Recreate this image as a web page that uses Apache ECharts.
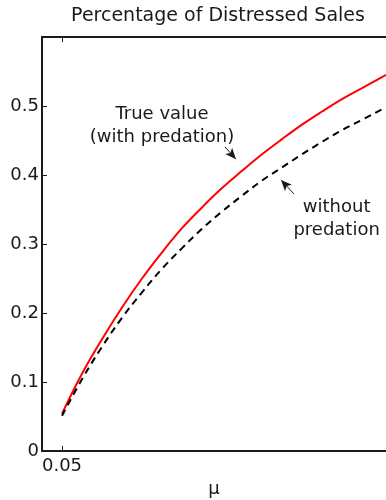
<!DOCTYPE html>
<html>
<head>
<meta charset="utf-8">
<script src="https://cdn.jsdelivr.net/npm/echarts@6/dist/echarts.min.js"></script>
<style>
  html, body { margin: 0; padding: 0; background: #fff; }
  #chart { width: 386px; height: 500px; }
</style>
</head>
<body>
<div id="chart"></div>
<script>
// μ values along the horizontal axis
const mu = [0.05, 0.06, 0.07, 0.08, 0.09, 0.10, 0.11, 0.12, 0.13, 0.14,
            0.15, 0.16, 0.17, 0.18, 0.19, 0.20, 0.21, 0.212];
// Share of distressed sales, true value (with predation)
const withPredation = [0.054, 0.112, 0.162, 0.208, 0.250, 0.288, 0.323, 0.353, 0.381,
                       0.406, 0.430, 0.452, 0.473, 0.492, 0.510, 0.526, 0.542, 0.545];
// Share of distressed sales without predation
const withoutPredation = [0.051, 0.104, 0.151, 0.193, 0.230, 0.264, 0.294, 0.322, 0.347,
                          0.370, 0.392, 0.411, 0.430, 0.448, 0.465, 0.480, 0.495, 0.498];
const xTicks = [0.05];
const yTicks = [0, 0.1, 0.2, 0.3, 0.4, 0.5];

const FONT = '"DejaVu Sans", Verdana, sans-serif';
const INK = '#1a1a1a';

const chart = echarts.init(document.getElementById('chart'), null, { renderer: 'canvas' });

function pairs(xs, ys) { return xs.map((x, i) => [x, ys[i]]); }

const baseX = {
  type: 'value', min: 0.04, max: 0.212,
  splitLine: { show: false },
  axisLine: { show: true, onZero: false, lineStyle: { color: INK, width: 2 } },
  axisTick: { show: true, inside: true, length: 5, customValues: xTicks, lineStyle: { color: INK, width: 1 } }
};

const arrowLine = {
  silent: true, symbol: ['none', 'arrow'], symbolSize: [7, 11],
  label: { show: false },
  lineStyle: { color: INK, width: 1, type: 'solid' }
};

chart.setOption({
  animation: false,
  backgroundColor: '#fff',
  title: {
    text: 'Percentage of Distressed Sales',
    left: 213, textAlign: 'center', top: 2,
    textStyle: { fontFamily: FONT, fontSize: 19, fontWeight: 'normal', color: INK }
  },
  grid: { left: 42, right: 0, top: 37, bottom: 49, containLabel: false, outerBoundsMode: 'none' },
  xAxis: [
    Object.assign({}, baseX, {
      position: 'bottom',
      name: 'μ', nameLocation: 'middle', nameGap: 28,
      nameTextStyle: { fontFamily: FONT, fontSize: 18, color: INK },
      axisLabel: { show: true, customValues: xTicks, margin: 6, formatter: v => v.toFixed(2),
                   fontFamily: FONT, fontSize: 18, color: INK }
    }),
    Object.assign({}, baseX, { position: 'top', axisLabel: { show: false } })
  ],
  yAxis: {
    type: 'value', min: 0, max: 0.6,
    splitLine: { show: false },
    axisLine: { show: true, lineStyle: { color: INK, width: 2 } },
    axisTick: { show: true, inside: true, length: 5, customValues: yTicks, lineStyle: { color: INK, width: 1 } },
    axisLabel: { customValues: yTicks, margin: 3, formatter: v => (v === 0 ? '0' : v.toFixed(1)),
                 fontFamily: FONT, fontSize: 18, color: INK }
  },
  series: [
    {
      name: 'True value (with predation)', type: 'line', smooth: 0.4,
      data: pairs(mu, withPredation), showSymbol: false,
      lineStyle: { color: '#ff0000', width: 2 },
      markLine: Object.assign({}, arrowLine, {
        data: [[{ coord: [0.1315, 0.4406] }, { coord: [0.137, 0.423] }]]
      })
    },
    {
      name: 'without predation', type: 'line', smooth: 0.4,
      data: pairs(mu, withoutPredation), showSymbol: false,
      lineStyle: { color: '#000', width: 2, type: [7, 5] },
      markLine: Object.assign({}, arrowLine, {
        data: [[{ coord: [0.166, 0.3725] }, { coord: [0.1595, 0.3928] }]]
      })
    }
  ]
});

// Curve labels, anchored in data space
function place(x, y) { return chart.convertToPixel({ xAxisIndex: 0, yAxisIndex: 0 }, [x, y]); }
const a = place(0.1, 0.471);
const b = place(0.1873, 0.337);
chart.setOption({
  graphic: [
    { type: 'text', x: a[0], y: a[1], style: { text: 'True value\n(with predation)', align: 'center',
      verticalAlign: 'middle', lineHeight: 23, font: '18px ' + FONT, fill: INK } },
    { type: 'text', x: b[0], y: b[1], style: { text: 'without\npredation', align: 'center',
      verticalAlign: 'middle', lineHeight: 23, font: '18px ' + FONT, fill: INK } }
  ]
});
</script>
</body>
</html>
